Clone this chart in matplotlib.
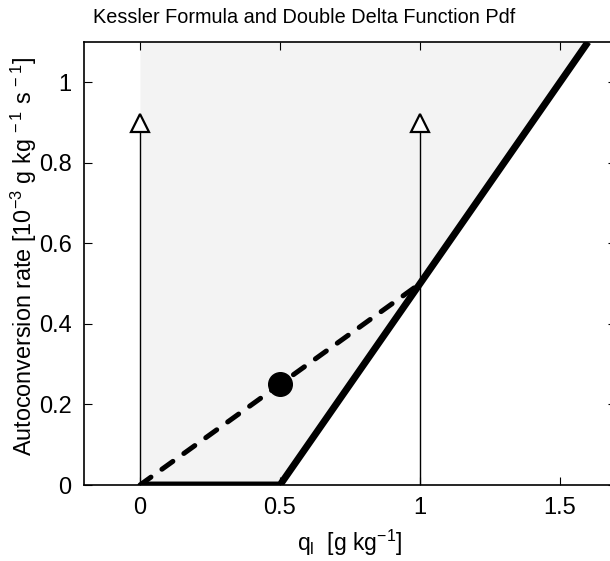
import matplotlib.pyplot as plt

plt.rcParams['font.family'] = ['Liberation Sans', 'DejaVu Sans']
plt.rcParams['mathtext.default'] = 'regular'

# Kessler autoconversion curve
kessler_q = [0.0, 0.5, 1.6]
kessler_rate = [0.0, 0.0, 1.1]

# chord between the two delta functions
chord_q = [0.0, 1.0]
chord_rate = [0.0, 0.5]

# mean of the double delta pdf
mean_q = [0.5]
mean_rate = [0.25]

# delta function locations and drawn height
delta_q = [0.0, 1.0]
delta_height = 0.9

x_ticks = [0, 0.5, 1, 1.5]
x_ticklabels = ['0', '0.5', '1', '1.5']
y_ticks = [0, 0.2, 0.4, 0.6, 0.8, 1]
y_ticklabels = ['0', '0.2', '0.4', '0.6', '0.8', '1']

fig = plt.figure(figsize=(6.1, 5.61), dpi=100)
ax = fig.add_axes([84 / 610, 76 / 561, 532 / 610, 443 / 561])

# shaded region above the curve
ax.fill_between(kessler_q, kessler_rate, 1.1, color='#f3f3f3', lw=0, zorder=0)

# delta functions as arrows
for q in delta_q:
    ax.plot([q, q], [0, delta_height], color='black', lw=1.0, zorder=2)
    ax.plot([q], [delta_height], marker='^', ms=12.5, mfc='white', mec='black', mew=1.6, zorder=3)

ax.plot(chord_q, chord_rate, color='black', lw=3.6, linestyle=(0, (2.7, 2.7)),
        dash_capstyle='round', zorder=4)
ax.plot(kessler_q, kessler_rate, color='black', lw=5, solid_capstyle='butt', zorder=5)
ax.plot(mean_q, mean_rate, 'o', color='black', ms=17, zorder=6)

ax.set_xlim(-0.2, 1.7)
ax.set_ylim(0, 1.1)
ax.set_xticks(x_ticks)
ax.set_xticklabels(x_ticklabels)
ax.set_yticks(y_ticks)
ax.set_yticklabels(y_ticklabels)
ax.tick_params(direction='in', top=True, right=True, length=6, labelsize=17, pad=9)
for s in ax.spines.values():
    s.set_linewidth(1.2)

ax.set_title('Kessler Formula and Double Delta Function Pdf', fontsize=14.3, pad=14, x=0.4145)
ax.set_xlabel('q$_l$  [g kg$^{-1}$]', fontsize=16.5, labelpad=6)
ax.set_ylabel('Autoconversion rate [10$^{-3}$ g kg$^{\\,-1}$ s$^{\\,-1}$]', fontsize=16.8)
ax.yaxis.set_label_coords(-0.085, 0.515)

fig.savefig('out.png', dpi=100)
